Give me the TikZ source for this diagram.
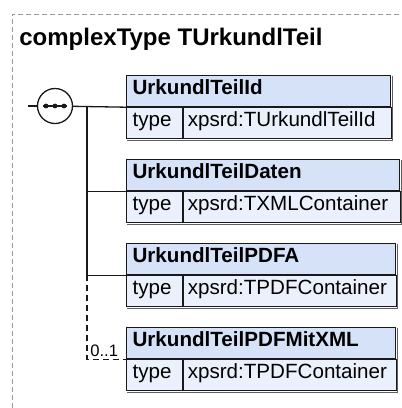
\documentclass[tikz,border=0pt]{standalone}
\usepackage{fontspec}
\setmainfont{Liberation Sans}
\usepackage{tikz}
\usetikzlibrary{positioning}
\definecolor{mydark}{RGB}{25,25,25}
\definecolor{myshade}{RGB}{95,95,95}
\definecolor{myframe}{RGB}{150,150,150}
\definecolor{hdrblue}{RGB}{214,226,247}
\definecolor{rowblue}{RGB}{235,241,252}
\tikzset{
  hdr/.style={rectangle, draw=mydark, fill=hdrblue, anchor=north west,
    text width=#1, align=left, minimum height=15.5pt,
    inner xsep=3pt, inner ysep=0pt, text height=6.5pt, text depth=3pt,
    font=\fontsize{10.3}{12}\selectfont\bfseries, line width=0.6pt},
  typecell/.style={rectangle, draw=mydark, fill=rowblue, anchor=north west,
    text width=22pt, align=left, minimum height=15.5pt,
    inner xsep=3pt, inner ysep=0pt, text height=6.5pt, text depth=3pt,
    font=\fontsize{10.3}{12}\selectfont, line width=0.6pt},
  valcell/.style={rectangle, draw=mydark, fill=rowblue, anchor=north west,
    text width=#1, align=left, minimum height=15.5pt,
    inner xsep=2pt, inner ysep=0pt, text height=6.5pt, text depth=3pt,
    font=\fontsize{10.3}{12}\selectfont, line width=0.6pt},
  seqnode/.style={circle, draw=mydark, fill=white, minimum size=17.5pt,
    inner sep=0pt, line width=0.65pt},
  title/.style={font=\fontsize{12}{14}\selectfont\bfseries, inner sep=0pt},
  mult/.style={font=\fontsize{8.3}{10}\selectfont, inner sep=0pt},
  line/.style={line width=0.65pt, color=mydark},
  optline/.style={line width=0.65pt, color=mydark, dash pattern=on 3pt off 2pt},
  shadeline/.style={line width=0.6pt, color=myshade},
  frame/.style={line width=0.5pt, color=myframe, dash pattern=on 2.5pt off 1.5pt}
}

\begin{document}
\begin{tikzpicture}[x=0.5pt, y=-0.5pt]
  \useasboundingbox (0,0) rectangle (402,408);

  % Frame and title
  \draw[frame] (12,408) |- (402,14);
  \node[title, anchor=base west] (ttl) at (19,45) {complexType TUrkundlTeil};

  % Sequence
  \coordinate (start) at (28,106);
  \node[seqnode] (seq) at (55,106) {};
  \draw[line] ([xshift=-6pt]seq.center) -- ([xshift=6pt]seq.center);
  \fill[mydark] ([xshift=-4.5pt]seq.center) circle (1.2pt);
  \fill[mydark] (seq.center) circle (1.2pt);
  \fill[mydark] ([xshift=4.5pt]seq.center) circle (1.2pt);

  % Element boxes
  \node[hdr=126pt] (h1) at (126,75) {UrkundlTeilId};
  \node[typecell] (t1) at (h1.south west) {type};
  \node[valcell=100pt] (v1) at (t1.north east) {xpsrd:TUrkundlTeilId};

  \node[hdr=130.5pt] (h2) at (126,159) {UrkundlTeilDaten};
  \node[typecell] (t2) at (h2.south west) {type};
  \node[valcell=104.5pt] (v2) at (t2.north east) {xpsrd:TXMLContainer};

  \node[hdr=128.5pt] (h3) at (126,243) {UrkundlTeilPDFA};
  \node[typecell] (t3) at (h3.south west) {type};
  \node[valcell=102.5pt] (v3) at (t3.north east) {xpsrd:TPDFContainer};

  \node[hdr=128.5pt] (h4) at (126,327) {UrkundlTeilPDFMitXML};
  \node[typecell] (t4) at (h4.south west) {type};
  \node[valcell=102.5pt] (v4) at (t4.north east) {xpsrd:TPDFContainer};

  % Box shadows
  \draw[shadeline] ([shift={(0.6pt,-0.6pt)}]h1.north east) |- ([shift={(0.6pt,-0.6pt)}]t1.south west);
  \draw[shadeline] ([shift={(0.6pt,-0.6pt)}]h2.north east) |- ([shift={(0.6pt,-0.6pt)}]t2.south west);
  \draw[shadeline] ([shift={(0.6pt,-0.6pt)}]h3.north east) |- ([shift={(0.6pt,-0.6pt)}]t3.south west);
  \draw[shadeline] ([shift={(0.6pt,-0.6pt)}]h4.north east) |- ([shift={(0.6pt,-0.6pt)}]t4.south west);

  % Connectors
  \coordinate (j1) at (87,106);
  \draw[line] (start) -- (seq);
  \draw[line] (seq) -- (h1.south west);
  \draw[line] (j1) |- (h2.south west);
  \draw[line] (j1) |- (h3.south west);
  \draw[optline] (h3.south west -| j1) |- (h4.south west);

  % Occurrence
  \node[mult, anchor=base west] (m4) at (90,356) {0..1};
\end{tikzpicture}
\end{document}
